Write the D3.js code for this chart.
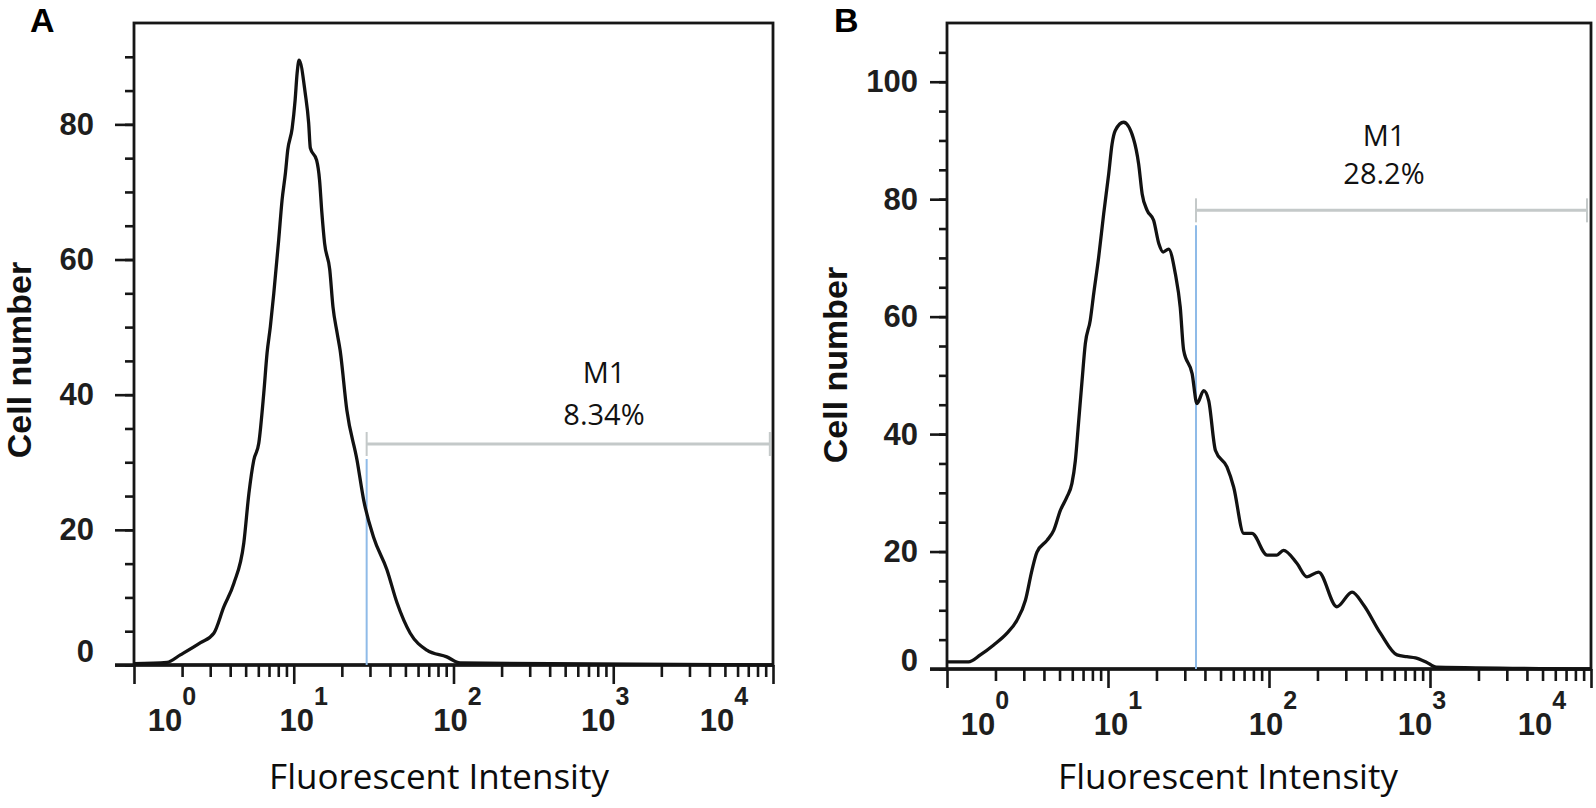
<!DOCTYPE html>
<html><head><meta charset="utf-8">
<script src="https://cdn.jsdelivr.net/npm/d3@7"></script>
<style>body{margin:0;background:#fff}</style>
</head><body>
<svg id="chart" width="1596" height="808"></svg>
<script>
// ---------- data ----------
const intensityA = [1.0, 1.61, 1.95, 2.61, 3.16, 3.65, 4.22, 4.87, 5.24, 5.62, 6.04, 6.49, 6.81, 7.14, 7.50, 8.05, 8.45, 8.87, 9.17, 9.77, 10.2, 10.5, 10.8, 11.8, 12.4, 12.7, 13.9, 14.5, 15.0, 15.6, 16.8, 17.6, 18.7, 19.5, 21.5, 24.9, 27.4, 31.6, 38.3, 44.3, 53.6, 68.1, 90.8, 110, 10000];
const countA     = [0.2, 0.4, 1.5, 3.3, 4.7, 8.6, 12.1, 18.1, 25.4, 30.3, 32.8, 40.2, 46.2, 50.1, 55.0, 62.9, 68.8, 72.8, 76.2, 79.4, 83.6, 87.6, 89.5, 84.6, 80.2, 76.5, 74.7, 71.8, 66.9, 62.4, 58.5, 53.0, 49.1, 46.6, 37.7, 30.3, 24.4, 18.9, 14.1, 9.2, 4.7, 2.2, 1.2, 0.3, 0];

const intensityB = [1.0, 1.36, 1.61, 1.95, 2.36, 2.72, 3.07, 3.37, 3.62, 4.18, 4.60, 5.06, 5.56, 5.97, 6.27, 6.58, 6.90, 7.23, 7.76, 8.15, 8.75, 9.40, 10.1, 10.6, 11.1, 12.5, 14.4, 15.5, 16.3, 17.5, 19.2, 20.7, 22.0, 23.8, 26.2, 28.1, 29.5, 33.3, 35.7, 39.3, 42.2, 46.5, 54.8, 60.3, 69.7, 78.3, 97.3, 112, 123, 149, 172, 203, 264, 328, 387, 492, 624, 719, 813, 944, 1096, 10000];
const countB     = [1.2, 1.2, 2.4, 4.1, 6.1, 8.3, 11.7, 16.8, 19.9, 21.9, 23.6, 27.0, 29.3, 31.6, 35.5, 42.3, 49.1, 55.4, 59.4, 63.9, 70.1, 77.5, 84.3, 89.4, 91.7, 93.1, 90.3, 86.0, 80.9, 78.1, 76.4, 72.4, 71.0, 71.5, 67.3, 61.6, 54.3, 50.3, 45.2, 47.4, 45.7, 37.2, 34.4, 31.0, 23.1, 23.1, 19.4, 19.4, 20.2, 18.0, 15.7, 16.5, 10.6, 13.1, 10.9, 6.1, 2.4, 2.1, 1.9, 1.2, 0.3, 0];

const yTickLabelsA = [0, 20, 40, 60, 80];
const yTickLabelsB = [0, 20, 40, 60, 80, 100];
const xDecadeExponents = [0, 1, 2, 3, 4];

const gateRangeA = [28.6, 9550];
const gateLevelA = 32.7;
const gateTextA = ["M1", "8.34%"];
const gateRangeB = [35.2, 9440];
const gateLevelB = 78.1;
const gateTextB = ["M1", "28.2%"];

const panelLetters = ["A", "B"];
const xTitle = "Fluorescent Intensity";
const yTitle = "Cell number";

// ---------- drawing ----------
const svg = d3.select("#chart");
const tickFont = "'Liberation Sans', Arial, sans-serif";
const textFont = "'Open Sans', 'Noto Sans', sans-serif";
const labelOffsets = [38, 10, 4, -8, -49];
const ink = "#161616";

function drawPanel(p) {
  const g = svg.append("g");
  const x = d3.scaleLog().domain([1, 10000]).range([p.left, p.right]);
  const y = d3.scaleLinear().domain([0, p.yMax]).range([p.bottom, p.top]);

  // panel letter
  g.append("text").attr("x", p.letterX).attr("y", 32)
    .attr("font-family", tickFont).attr("font-weight", "bold").attr("font-size", 34)
    .attr("fill", "#000").text(p.letter);

  // y ticks
  const yMinor = d3.range(0, p.yTickMax + 0.1, 5);
  const yAxisMinor = g.append("g").attr("transform", `translate(${p.left},0)`)
    .call(d3.axisLeft(y).tickValues(yMinor).tickSize(p.yMinorLen).tickFormat(""));
  const yAxisMajor = g.append("g").attr("transform", `translate(${p.left},0)`)
    .call(d3.axisLeft(y).tickValues(p.yLabels).tickSize(p.yMajorLen).tickFormat(""));
  [yAxisMinor, yAxisMajor].forEach(a => {
    a.select(".domain").remove();
    a.selectAll("line").attr("stroke", ink).attr("stroke-width", 2.6);
  });
  p.yLabels.forEach(v => {
    g.append("text").attr("x", p.left - p.yLabelGap).attr("y", y(v) + (v === 0 ? p.zeroDy : 0))
      .attr("text-anchor", "end").attr("dominant-baseline", "central")
      .attr("font-family", tickFont).attr("font-weight", "bold").attr("font-size", 31)
      .attr("fill", "#1e1e1e").text(v);
  });

  // x ticks
  const xMinor = [];
  for (let d = 0; d < 4; d++) for (let m = 2; m <= 9; m++) xMinor.push(m * Math.pow(10, d));
  const xMajor = xDecadeExponents.map(e => Math.pow(10, e));
  const xAxisMinor = g.append("g").attr("transform", `translate(0,${y(0)})`)
    .call(d3.axisBottom(x).tickValues(xMinor).tickSize(12).tickFormat(""));
  const xAxisMajor = g.append("g").attr("transform", `translate(0,${y(0)})`)
    .call(d3.axisBottom(x).tickValues(xMajor).tickSize(19).tickFormat(""));
  [xAxisMinor, xAxisMajor].forEach(a => {
    a.select(".domain").remove();
    a.selectAll("line").attr("stroke", ink).attr("stroke-width", 2.6);
  });
  xDecadeExponents.forEach((e, i) => {
    const t = g.append("text").attr("x", x(Math.pow(10, e)) + labelOffsets[i]).attr("y", y(0) + 66)
      .attr("text-anchor", "middle").attr("font-family", tickFont).attr("font-weight", "bold")
      .attr("fill", "#1e1e1e");
    t.append("tspan").attr("font-size", 31).text("10");
    t.append("tspan").attr("font-size", 25).attr("dy", -26).text(e);
  });

  // frame
  g.append("rect").attr("x", p.left).attr("y", p.top)
    .attr("width", p.right - p.left).attr("height", y(0) - p.top)
    .attr("fill", "none").attr("stroke", ink).attr("stroke-width", 2.8);
  g.append("line").attr("x1", p.left - p.yMajorLen).attr("x2", p.right)
    .attr("y1", y(0)).attr("y2", y(0)).attr("stroke", ink).attr("stroke-width", 3.4);

  // gate marker
  const gx0 = x(p.gate[0]), gx1 = x(p.gate[1]), gy = y(p.gateLevel);
  g.append("line").attr("x1", gx0).attr("x2", gx0).attr("y1", gy + 15).attr("y2", y(0))
    .attr("stroke", "#8fbbe8").attr("stroke-width", 2);
  g.append("line").attr("x1", gx0).attr("x2", gx1).attr("y1", gy).attr("y2", gy)
    .attr("stroke", "#c4c9c9").attr("stroke-width", 3);
  [gx0, gx1].forEach(xx => g.append("line").attr("x1", xx).attr("x2", xx)
    .attr("y1", gy - 12).attr("y2", gy + 12).attr("stroke", "#c4c9c9").attr("stroke-width", 2));
  g.append("text").attr("x", p.gateTextX).attr("y", gy - p.gateTextDy[0]).attr("text-anchor", "middle")
    .attr("font-family", textFont).attr("font-size", 29).attr("fill", "#111").text(p.gateText[0]);
  g.append("text").attr("x", p.gateTextX).attr("y", gy - p.gateTextDy[1]).attr("text-anchor", "middle")
    .attr("font-family", textFont).attr("font-size", 29).attr("fill", "#111").text(p.gateText[1]);

  // histogram line
  const pts = p.xs.map((v, i) => [v, p.ys[i]]);
  const line = d3.line().x(d => x(d[0])).y(d => y(d[1])).curve(d3.curveMonotoneX);
  g.append("path").attr("d", line(pts)).attr("fill", "none")
    .attr("stroke", "#121212").attr("stroke-width", 3.3).attr("stroke-linejoin", "round");

  // axis titles
  g.append("text").attr("x", p.xTitleX).attr("y", 789).attr("text-anchor", "middle")
    .attr("font-family", textFont).attr("font-size", 35).attr("fill", "#0c0c0c").text(xTitle);
  g.append("text").attr("transform", `translate(${p.yTitleX},${p.yTitleY}) rotate(-90)`)
    .attr("text-anchor", "middle").attr("font-family", tickFont).attr("font-weight", "bold")
    .attr("font-size", 34).attr("fill", "#111").text(yTitle);
}

drawPanel({
  letter: panelLetters[0], letterX: 30,
  left: 134, right: 773, top: 23, bottom: 665, yMax: 95, yTickMax: 90,
  yLabels: yTickLabelsA, yMinorLen: 9, yMajorLen: 19, yLabelGap: 40, zeroDy: -14,
  xs: intensityA, ys: countA,
  gate: gateRangeA, gateLevel: gateLevelA, gateText: gateTextA, gateTextX: 604, gateTextDy: [61, 19],
  xTitleX: 439, yTitleX: 31, yTitleY: 360
});
drawPanel({
  letter: panelLetters[1], letterX: 834,
  left: 947, right: 1591, top: 23, bottom: 669, yMax: 110, yTickMax: 105,
  yLabels: yTickLabelsB, yMinorLen: 8, yMajorLen: 17, yLabelGap: 29, zeroDy: -9,
  xs: intensityB, ys: countB,
  gate: gateRangeB, gateLevel: gateLevelB, gateText: gateTextB, gateTextX: 1384, gateTextDy: [64, 26],
  xTitleX: 1228, yTitleX: 847, yTitleY: 365
});
</script>
</body></html>
